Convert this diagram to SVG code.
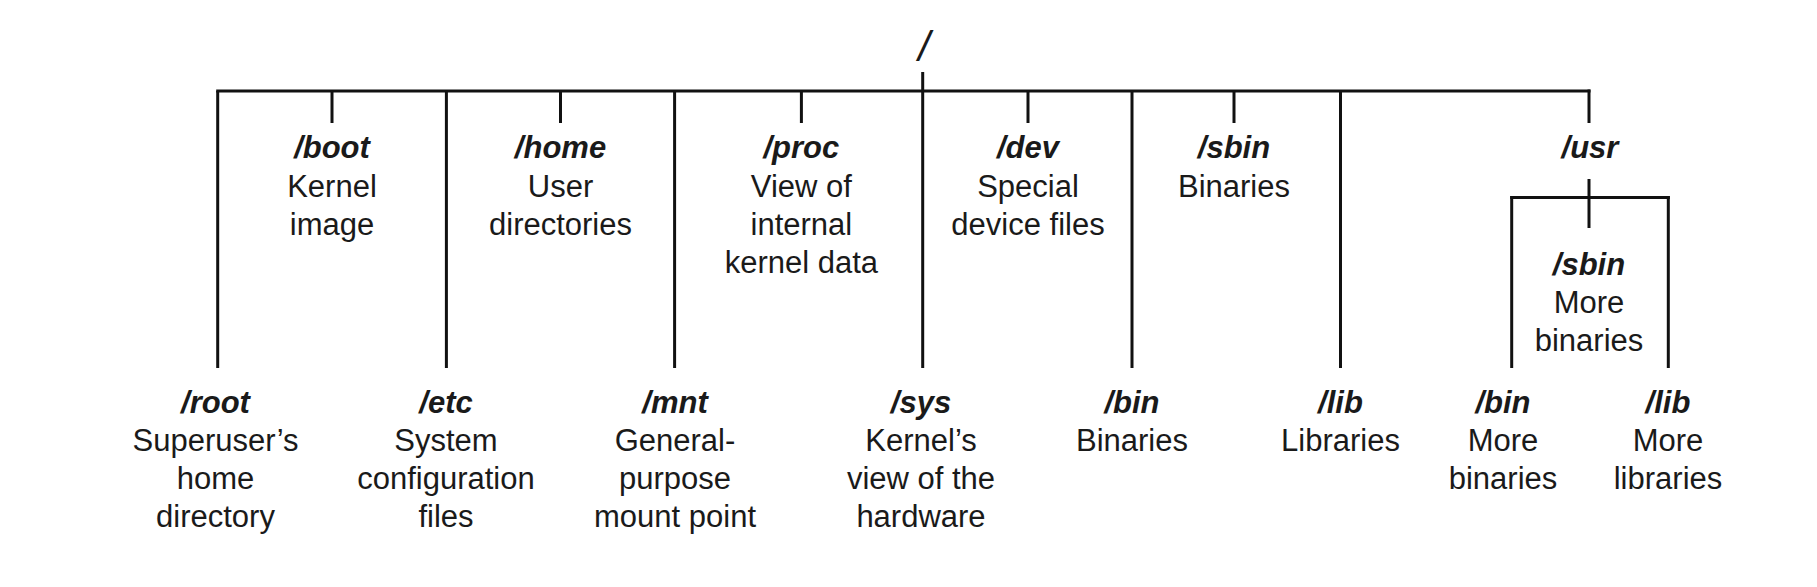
<svg xmlns="http://www.w3.org/2000/svg" width="1817" height="587" viewBox="0 0 1817 587">
<style>
  .bg { fill: #ffffff; }
  .conn line { stroke: #111; stroke-width: 3; stroke-linecap: butt; fill: none; }
  text { font-family: "Liberation Sans", Arial, sans-serif; font-size: 31px; fill: #1a1a1a; text-anchor: middle; }
  .name { font-weight: bold; font-style: italic; }
  .rootslash { font-style: italic; font-size: 42px; }
</style>
<rect class="bg" x="0" y="0" width="1817" height="587"/>

<g id="connectors" class="conn">
  <line x1="216.2" y1="91" x2="1590.5" y2="91"/>
  <line x1="922.7" y1="72" x2="922.7" y2="368"/>
  <line x1="217.7" y1="91" x2="217.7" y2="368"/>
  <line x1="446.4" y1="91" x2="446.4" y2="368"/>
  <line x1="674.6" y1="91" x2="674.6" y2="368"/>
  <line x1="1132" y1="91" x2="1132" y2="368"/>
  <line x1="1340.5" y1="91" x2="1340.5" y2="368"/>
  <line x1="332" y1="91" x2="332" y2="123"/>
  <line x1="560.5" y1="91" x2="560.5" y2="123"/>
  <line x1="801.4" y1="91" x2="801.4" y2="123"/>
  <line x1="1028" y1="91" x2="1028" y2="123"/>
  <line x1="1234" y1="91" x2="1234" y2="123"/>
  <line x1="1589" y1="89.5" x2="1589" y2="123"/>
  <line x1="1589" y1="179" x2="1589" y2="228"/>
  <line x1="1510.2" y1="197.5" x2="1669.8" y2="197.5"/>
  <line x1="1511.7" y1="196" x2="1511.7" y2="368"/>
  <line x1="1668.3" y1="196" x2="1668.3" y2="368"/>
</g>

<g id="node-root">
  <text class="rootslash" x="924" y="61">/</text>
</g>

<g id="node-boot">
  <text class="name" x="332" y="158">/boot</text>
  <text x="332" y="197">Kernel</text>
  <text x="332" y="235">image</text>
</g>
<g id="node-home">
  <text class="name" x="560.5" y="158">/home</text>
  <text x="560.5" y="197">User</text>
  <text x="560.5" y="235">directories</text>
</g>
<g id="node-proc">
  <text class="name" x="801.4" y="158">/proc</text>
  <text x="801.4" y="197">View of</text>
  <text x="801.4" y="235">internal</text>
  <text x="801.4" y="273">kernel data</text>
</g>
<g id="node-dev">
  <text class="name" x="1028" y="158">/dev</text>
  <text x="1028" y="197">Special</text>
  <text x="1028" y="235">device files</text>
</g>
<g id="node-sbin">
  <text class="name" x="1234" y="158">/sbin</text>
  <text x="1234" y="197">Binaries</text>
</g>
<g id="node-usr">
  <text class="name" x="1590" y="158">/usr</text>
</g>
<g id="node-usr-sbin">
  <text class="name" x="1589" y="275">/sbin</text>
  <text x="1589" y="313">More</text>
  <text x="1589" y="351">binaries</text>
</g>

<g id="node-rootdir">
  <text class="name" x="215.5" y="413">/root</text>
  <text x="215.5" y="451">Superuser’s</text>
  <text x="215.5" y="489">home</text>
  <text x="215.5" y="527">directory</text>
</g>
<g id="node-etc">
  <text class="name" x="446" y="413">/etc</text>
  <text x="446" y="451">System</text>
  <text x="446" y="489">configuration</text>
  <text x="446" y="527">files</text>
</g>
<g id="node-mnt">
  <text class="name" x="675" y="413">/mnt</text>
  <text x="675" y="451">General-</text>
  <text x="675" y="489">purpose</text>
  <text x="675" y="527">mount point</text>
</g>
<g id="node-sys">
  <text class="name" x="921" y="413">/sys</text>
  <text x="921" y="451">Kernel’s</text>
  <text x="921" y="489">view of the</text>
  <text x="921" y="527">hardware</text>
</g>
<g id="node-bin">
  <text class="name" x="1132" y="413">/bin</text>
  <text x="1132" y="451">Binaries</text>
</g>
<g id="node-lib">
  <text class="name" x="1340.5" y="413">/lib</text>
  <text x="1340.5" y="451">Libraries</text>
</g>
<g id="node-usr-bin">
  <text class="name" x="1503" y="413">/bin</text>
  <text x="1503" y="451">More</text>
  <text x="1503" y="489">binaries</text>
</g>
<g id="node-usr-lib">
  <text class="name" x="1668" y="413">/lib</text>
  <text x="1668" y="451">More</text>
  <text x="1668" y="489">libraries</text>
</g>
</svg>
